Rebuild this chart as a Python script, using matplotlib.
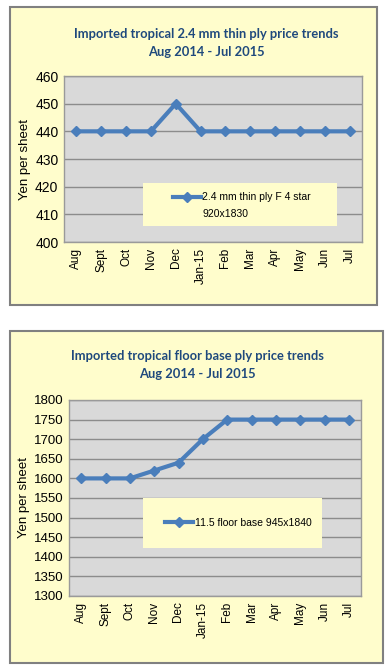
import matplotlib.pyplot as plt
from matplotlib.patches import Rectangle

months = ['Aug', 'Sept', 'Oct', 'Nov', 'Dec', 'Jan-15', 'Feb', 'Mar', 'Apr', 'May', 'Jun', 'Jul']
thin_ply = [440, 440, 440, 440, 450, 440, 440, 440, 440, 440, 440, 440]
floor_base = [1600, 1600, 1600, 1620, 1640, 1700, 1750, 1750, 1750, 1750, 1750, 1750]

title1 = 'Imported tropical 2.4 mm thin ply price trends\nAug 2014 - Jul 2015'
title2 = 'Imported tropical floor base ply price trends\nAug 2014 - Jul 2015'
label1 = '2.4 mm thin ply F 4 star\n920x1830'
label2 = '11.5 floor base 945x1840'

W, H = 392, 672
panel_bg = '#FFFDCC'
plot_bg = '#D9D9D9'
line_c = '#4A7EBB'
title_c = '#1F497D'
arial = ['Liberation Sans', 'DejaVu Sans']

fig = plt.figure(figsize=(W / 100, H / 100), dpi=100)


def px(x0, y0, x1, y1):
    # pixel box (top-left origin) -> figure fraction [left, bottom, width, height]
    return [x0 / W, 1 - y1 / H, (x1 - x0) / W, (y1 - y0) / H]


def panel(x0, y0, x1, y1):
    l, b, w, h = px(x0, y0, x1, y1)
    fig.patches.append(Rectangle((l, b), w, h, transform=fig.transFigure,
                                 facecolor=panel_bg, edgecolor='#808080', lw=1.5, zorder=-5))


def chart(box, values, ylim, yticks, ytick_size, title, title_xy, label, legend_box, legend_anchor):
    ax = fig.add_axes(px(*box))
    ax.set_facecolor(plot_bg)
    x = range(len(months))
    lines = label.split('\n')
    ax.plot(x, values, color=line_c, lw=3, marker='D', ms=5, label=lines[0], zorder=3)
    ax.set_xlim(-0.5, len(months) - 0.5)
    ax.set_ylim(*ylim)
    ax.set_yticks(yticks)
    ax.set_xticks(list(x))
    ax.set_xticklabels(months, rotation=90, fontsize=8.5, family=arial)
    for t in ax.get_yticklabels():
        t.set_fontsize(ytick_size)
        t.set_family(arial)
    ax.tick_params(length=0, pad=4)
    ax.grid(axis='y', color='#8C8C8C', lw=1)
    ax.set_axisbelow(True)
    for s in ax.spines.values():
        s.set_color('#9A9A9A')
        s.set_linewidth(1)
    ax.set_ylabel('Yen per sheet', fontsize=9.5, labelpad=3, family=arial)
    ax.add_patch(Rectangle((legend_box[0], legend_box[1]), legend_box[2], legend_box[3],
                           transform=ax.transAxes, facecolor=panel_bg, edgecolor='none', zorder=4))
    leg = ax.legend(loc='center left', bbox_to_anchor=legend_anchor, frameon=False,
                    handlelength=2.7, handletextpad=0.15, borderpad=0, borderaxespad=0,
                    prop={'family': arial, 'size': 7.5})
    leg.set_zorder(5)
    if len(lines) > 1:
        # second line of the legend label sits under the first, aligned with its text
        fig.canvas.draw()
        bb = leg.get_texts()[0].get_window_extent().transformed(ax.transAxes.inverted())
        ax.text(bb.x0, bb.y0 - 0.04, lines[1], transform=ax.transAxes, ha='left', va='top',
                fontsize=7.5, family=arial, zorder=6)
    fig.text(title_xy[0] / W, 1 - title_xy[1] / H, title, ha='center', va='center',
             fontsize=9.3, fontweight='bold', color=title_c, family='Lato', linespacing=1.5)
    return ax


panel(10, 7, 377, 305)
panel(10, 331, 383, 663)

chart((64, 76, 362, 242), thin_ply, (400, 460), range(400, 461, 10), 10,
      title1, (206, 43), label1, (0.265, 0.096, 0.651, 0.259), (0.365, 0.27))
chart((69, 400, 361, 596), floor_base, (1300, 1800), range(1300, 1801, 50), 9.5,
      title2, (197, 365), label2, (0.253, 0.245, 0.613, 0.255), (0.33, 0.372))

fig.savefig('out.png', dpi=100)
